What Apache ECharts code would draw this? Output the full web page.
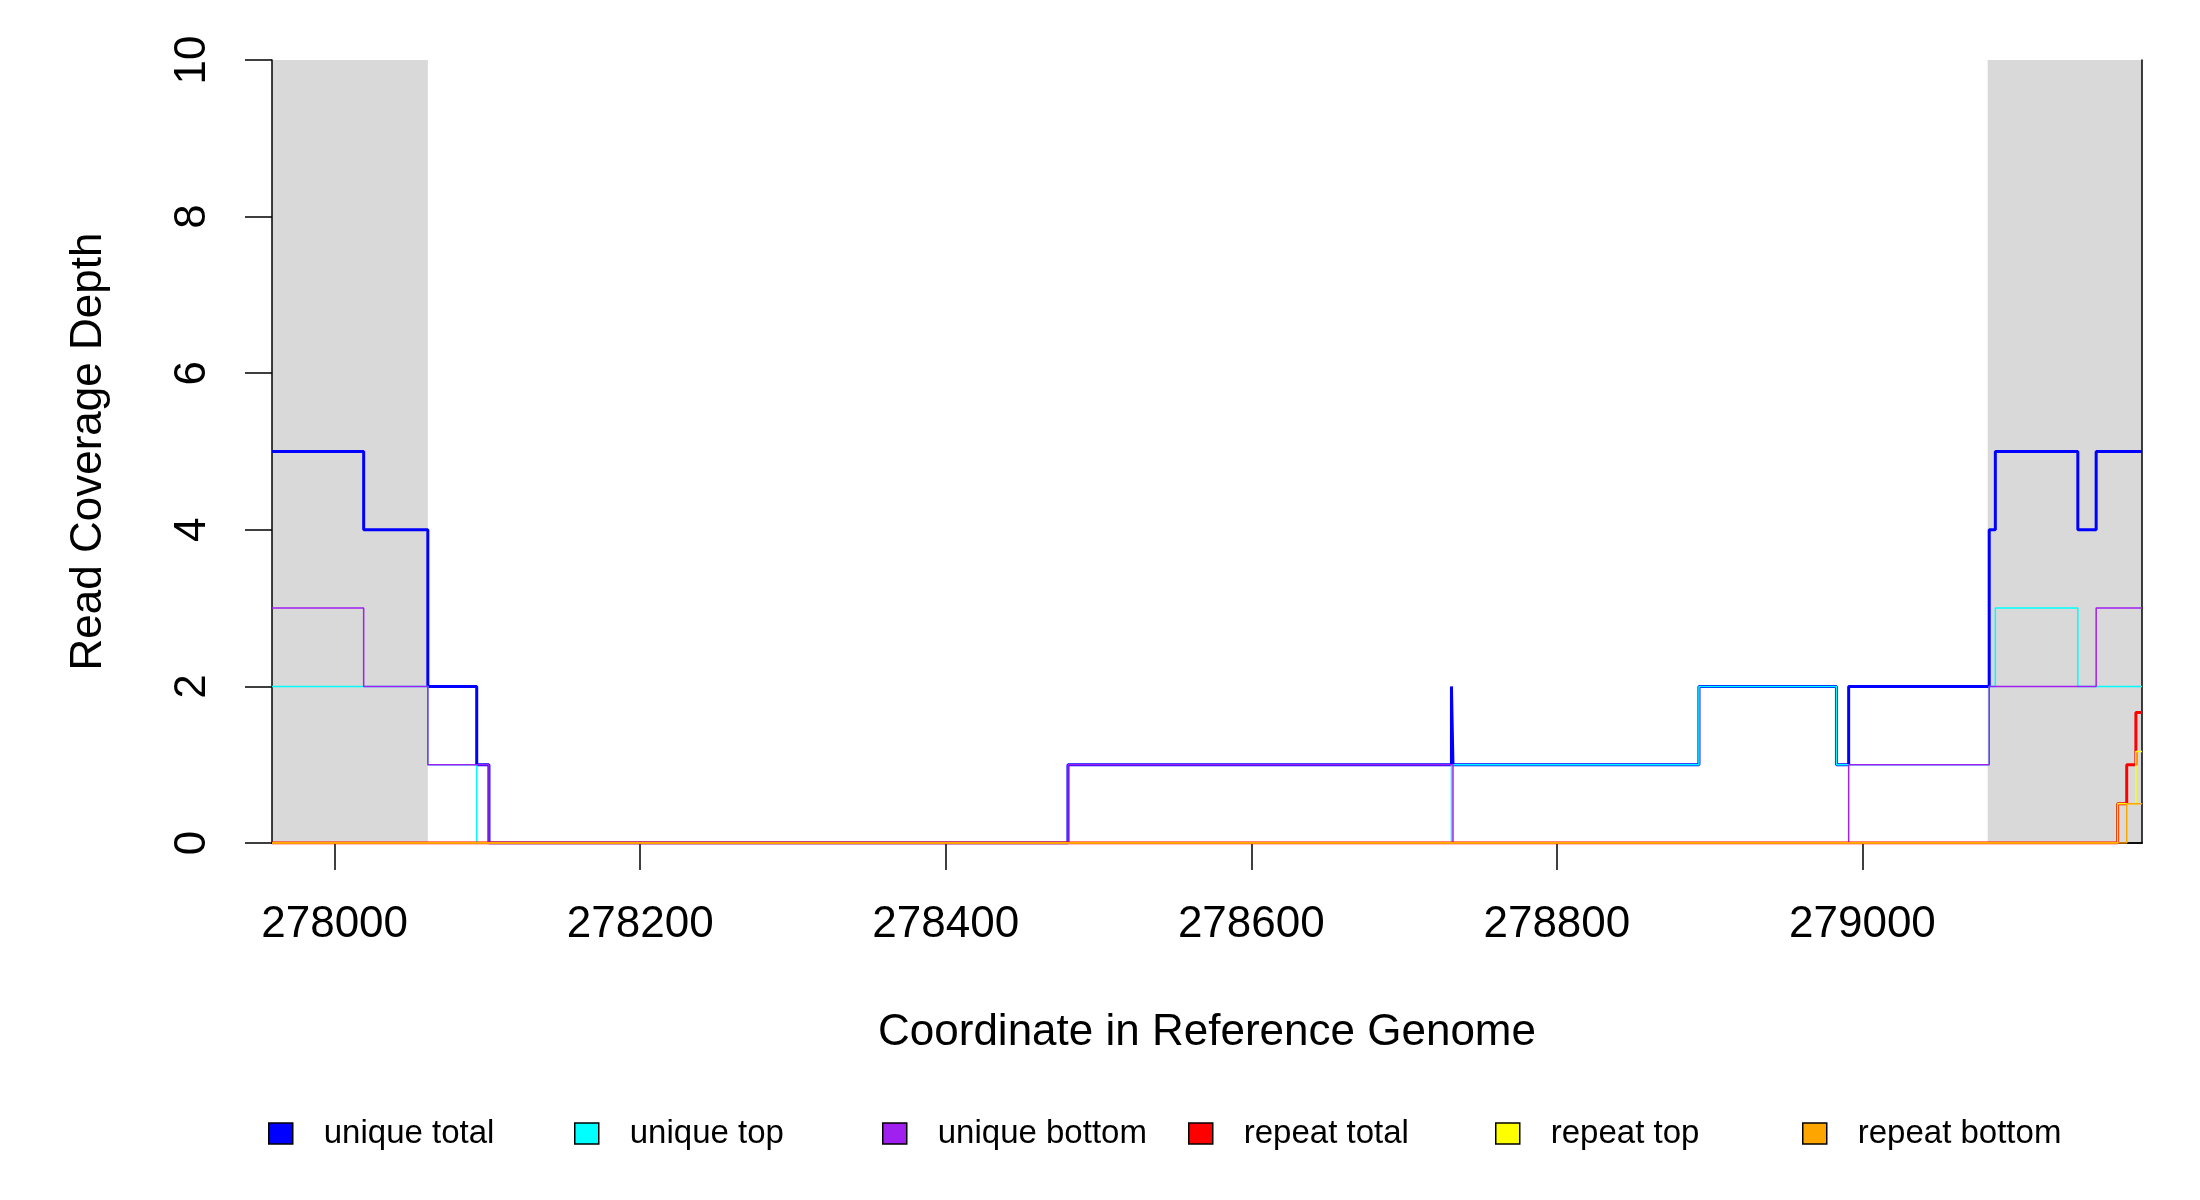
<!DOCTYPE html>
<html>
<head>
<meta charset="utf-8">
<script src="https://cdn.jsdelivr.net/npm/echarts@6/dist/echarts.min.js"></script>
<style>
html,body{margin:0;padding:0;background:#fff;}
#chart{width:2200px;height:1200px;}
</style>
</head>
<body>
<div id="chart"></div>
<script>
// ---- data ----
const xMin = 277959;
const xMax = 279183;
const xTicks = [278000, 278200, 278400, 278600, 278800, 279000];
const yTicks = [0, 2, 4, 6, 8, 10];
const shadedRegions = [[277959, 278061], [279082, 279183]];

const seriesNames = ['unique total', 'unique top', 'unique bottom', 'repeat total', 'repeat top', 'repeat bottom'];

const uniqueTotalX = [277959, 278019, 278061, 278093, 278101, 278480, 278731, 278732, 278893, 278983, 278991, 279083, 279087, 279141, 279153, 279183];
const uniqueTotalY = [5, 4, 2, 1, 0, 1, 2, 1, 2, 1, 2, 4, 5, 4, 5, 5];

const uniqueTopX = [277959, 278061, 278093, 278731, 278893, 278983, 279083, 279087, 279141, 279183];
const uniqueTopY = [2, 1, 0, 1, 2, 1, 2, 3, 2, 2];

const uniqueBottomX = [277959, 278019, 278061, 278101, 278480, 278732, 278991, 279083, 279153, 279183];
const uniqueBottomY = [3, 2, 1, 0, 1, 0, 1, 2, 3, 3];

const repeatTotalX = [277959, 279167, 279173, 279179, 279183];
const repeatTotalY = [0, 0.5, 1, 1.667, 1.667];

const repeatTopX = [277959, 279167, 279179, 279183];
const repeatTopY = [0, 0.5, 1.167, 1.167];

const repeatBottomX = [277959, 279173, 279183];
const repeatBottomY = [0, 0.5, 0.5];

// ---- build ----
const zip = (xs, ys) => xs.map((x, i) => [x, ys[i]]);
const FONT = 'Liberation Sans';
const colors = ['#0000ff', '#00ffff', '#a020f0', '#ff0000', '#ffff00', '#ffa500'];
const widths = [3, 1.5, 1.5, 3, 1.5, 1.5];
const dataSets = [
  zip(uniqueTotalX, uniqueTotalY),
  zip(uniqueTopX, uniqueTopY),
  zip(uniqueBottomX, uniqueBottomY),
  zip(repeatTotalX, repeatTotalY),
  zip(repeatTopX, repeatTopY),
  zip(repeatBottomX, repeatBottomY)
];

const lineSeries = seriesNames.map((name, i) => ({
  name: name,
  type: 'line',
  step: 'end',
  data: dataSets[i],
  symbol: 'none',
  color: colors[i],
  lineStyle: { color: colors[i], width: widths[i] },
  itemStyle: { color: colors[i] },
  z: 4 + i,
  animation: false,
  silent: true
}));

const shadeSeries = {
  name: '__shade',
  type: 'line',
  data: [],
  z: 1,
  silent: true,
  animation: false,
  markArea: {
    silent: true,
    itemStyle: { color: '#d9d9d9', opacity: 1 },
    data: shadedRegions.map(r => [{ xAxis: r[0] }, { xAxis: r[1] }])
  }
};

const legendLefts = [268, 574, 882, 1188, 1495, 1802];
const legends = seriesNames.map((name, i) => ({
  data: [name],
  left: legendLefts[i],
  top: 1117,
  padding: 0,
  icon: 'rect',
  itemWidth: 24,
  itemHeight: 21,
  selectedMode: false,
  itemStyle: { borderColor: '#000', borderWidth: 1.5 },
  textStyle: { fontFamily: FONT, fontSize: 33, color: '#000', padding: [0, 0, 0, 26] }
}));

const axisLineStyle = { show: true, lineStyle: { color: '#000', width: 1.5 } };

const option = {
  backgroundColor: '#fff',
  animation: false,
  textStyle: { fontFamily: FONT },
  grid: { left: 272, top: 60, width: 1870, height: 783, containLabel: false },
  legend: legends,
  xAxis: [
    {
      type: 'value', position: 'bottom', min: xMin, max: xMax, z: 3,
      axisLine: axisLineStyle,
      splitLine: { show: false },
      axisTick: { show: true, length: 27, customValues: xTicks, lineStyle: { color: '#000', width: 1.5 } },
      axisLabel: { customValues: xTicks, formatter: v => String(v), fontFamily: FONT, fontSize: 44, color: '#000', margin: 82, verticalAlign: 'middle' },
      name: 'Coordinate in Reference Genome',
      nameLocation: 'middle',
      nameGap: 190,
      nameTextStyle: { fontFamily: FONT, fontSize: 44, color: '#000', verticalAlign: 'middle' }
    },
    {
      type: 'value', position: 'top', min: xMin, max: xMax, z: 3,
      axisLine: axisLineStyle,
      splitLine: { show: false }, axisTick: { show: false }, axisLabel: { show: false }
    }
  ],
  yAxis: [
    {
      type: 'value', position: 'left', min: 0, max: 10, interval: 2, z: 3,
      axisLine: axisLineStyle,
      splitLine: { show: false },
      axisTick: { show: true, length: 27, customValues: yTicks, lineStyle: { color: '#000', width: 1.5 } },
      axisLabel: { customValues: yTicks, fontFamily: FONT, fontSize: 44, color: '#000', margin: 79, rotate: 90, align: 'center', verticalAlign: 'middle' },
      name: 'Read Coverage Depth',
      nameLocation: 'middle',
      nameRotate: 90,
      nameGap: 183,
      nameTextStyle: { fontFamily: FONT, fontSize: 44, color: '#000', verticalAlign: 'middle', align: 'center' }
    },
    {
      type: 'value', position: 'right', min: 0, max: 10, z: 3,
      axisLine: axisLineStyle,
      splitLine: { show: false }, axisTick: { show: false }, axisLabel: { show: false }
    }
  ],
  series: [shadeSeries].concat(lineSeries)
};

const chart = echarts.init(document.getElementById('chart'), null, { renderer: 'canvas' });
chart.setOption(option);
</script>
</body>
</html>
